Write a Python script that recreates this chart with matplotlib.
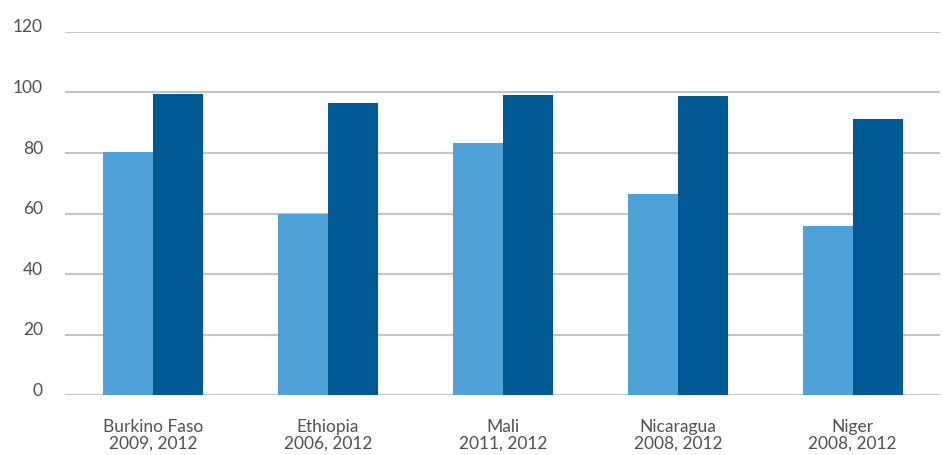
import matplotlib.pyplot as plt
import matplotlib.transforms as mtransforms
import numpy as np

countries = ["Burkino Faso", "Ethiopia", "Mali", "Nicaragua", "Niger"]
years = ["2009, 2012", "2006, 2012", "2011, 2012", "2008, 2012", "2008, 2012"]
first_survey = [80.3, 60.0, 83.2, 66.5, 56.0]
second_survey = [99.5, 96.5, 99.2, 98.7, 91.2]
y_ticks = [0, 20, 40, 60, 80, 100, 120]


def main() -> None:
    plt.rcParams["font.family"] = ["Lato", "DejaVu Sans"]
    fig = plt.figure(figsize=(9.43, 4.55), dpi=100)
    ax = fig.add_axes([0.069, 0.131, 0.928, 0.799])

    x = np.arange(len(countries))
    width = 0.286
    ax.bar(x - width / 2, first_survey, width=width, color="#4fa2d7", zorder=3)
    ax.bar(x + width / 2, second_survey, width=width, color="#005994", zorder=3)

    ax.set_xlim(-0.503, 4.5)
    ax.set_ylim(0, 120)
    ax.set_yticks(y_ticks)
    ax.yaxis.grid(True, color="#c4c4c4", linewidth=1.5, zorder=0)
    for side in ["top", "right", "left", "bottom"]:
        ax.spines[side].set_visible(False)
    ax.tick_params(axis="both", length=0, labelsize=12.5, colors="#505050")
    ax.tick_params(axis="y", pad=16)
    ax.tick_params(axis="x", pad=17)

    ax.set_xticks(x)
    ax.set_xticklabels([f"{c}\n{y}" for c, y in zip(countries, years)], linespacing=1.05)

    shift = mtransforms.ScaledTranslation(0, 6 / 100, fig.dpi_scale_trans)
    for label in ax.get_yticklabels():
        label.set_transform(label.get_transform() + shift)

    fig.savefig("out.png", dpi=100)
    plt.close(fig)


if __name__ == "__main__":
    main()
